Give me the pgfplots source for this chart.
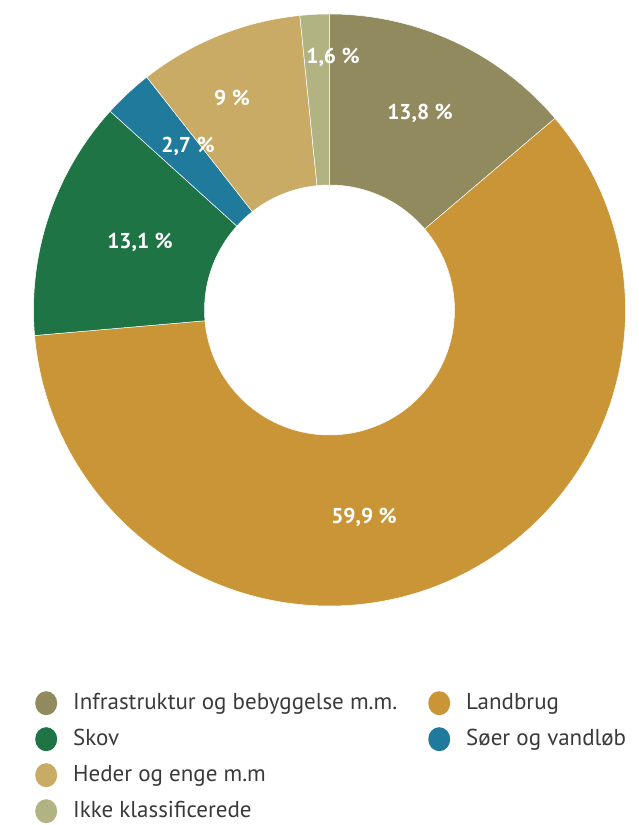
\documentclass[border=0pt]{standalone}
\usepackage{fontspec}
\setmainfont{PT Sans}
\usepackage{pgfplots}
\usepackage{pgfplotstable}
\pgfplotsset{compat=1.18}

\definecolor{cInfra}{HTML}{908A5E}
\definecolor{cLand}{HTML}{C99537}
\definecolor{cSkov}{HTML}{1E7444}
\definecolor{cSoer}{HTML}{1F7A9C}
\definecolor{cHeder}{HTML}{C9AB66}
\definecolor{cIkke}{HTML}{B1B482}
\definecolor{txt}{HTML}{3A3A3A}

% arealanvendelse, procent
\pgfplotstableread{
label value col
Infra 13.8 cInfra
Land 59.9 cLand
Skov 13.1 cSkov
Soer 2.7 cSoer
Heder 9 cHeder
Ikke 1.6 cIkke
}\landdata

\begin{document}
\begin{tikzpicture}
\begin{axis}[
  compat/path replacement=1.5.1,
  scale only axis, width=639pt, height=825pt,
  xmin=-329.5, xmax=309.5, ymin=-515, ymax=310,
  hide axis, clip=false,
  legend columns=2,
  legend cell align=left,
  legend image code/.code={\fill[#1,draw=none] (11pt,0pt) ellipse[x radius=11pt,y radius=12pt];},
  legend style={draw=none, fill=none, text=txt,
    font=\fontsize{23}{26}\selectfont,
    at={(axis cs:-297.5,-379)}, anchor=north west,
    row sep=12pt,
    nodes={inner sep=0pt, text height=18pt, text depth=5pt},
    /tikz/every odd column/.append style={column sep=16pt},
    /tikz/every even column/.append style={column sep=31pt}},
]
\def\acc{90}
\pgfplotsforeachungrouped \i in {0,...,5}{%
  \pgfplotstablegetelem{\i}{value}\of\landdata \let\v\pgfplotsretval
  \pgfplotstablegetelem{\i}{col}\of\landdata \let\c\pgfplotsretval
  \pgfmathsetmacro\aend{\acc-\v/100.1*360}%
  \edef\temp{\noexpand\fill[\c,draw=white,line width=0.5pt]
    (axis cs:{296*cos(\acc)},{296*sin(\acc)}) arc[start angle=\acc,end angle=\aend,radius=296pt]
    -- (axis cs:{125*cos(\aend)},{125*sin(\aend)}) arc[start angle=\aend,end angle=\acc,radius=125pt] -- cycle;}%
  \temp
  \let\acc\aend
}

\addlegendimage{color=cInfra}\addlegendentry{Infrastruktur og bebyggelse m.m.}
\addlegendimage{color=cLand}\addlegendentry{Landbrug}
\addlegendimage{color=cSkov}\addlegendentry{Skov}
\addlegendimage{color=cSoer}\addlegendentry{Søer og vandløb}
\addlegendimage{color=cHeder}\addlegendentry{Heder og enge m.m}
\addlegendimage{empty legend}\addlegendentry{}
\addlegendimage{color=cIkke}\addlegendentry{Ikke klassificerede}

\begin{scope}[every node/.style={text=white, font=\bfseries\fontsize{21.5}{25}\selectfont}]
\node at (axis cs:90.5,197) {13,8 \%};
\node at (axis cs:34.5,-207) {59,9 \%};
\node at (axis cs:-189.5,68) {13,1 \%};
\node at (axis cs:-141.5,164) {2,7 \%};
\node at (axis cs:-97.5,212) {9 \%};
\node at (axis cs:3.5,253) {1,6 \%};
\end{scope}
\end{axis}
\pgfresetboundingbox
\path (current axis.south west) rectangle (current axis.north east);
\end{tikzpicture}
\end{document}
